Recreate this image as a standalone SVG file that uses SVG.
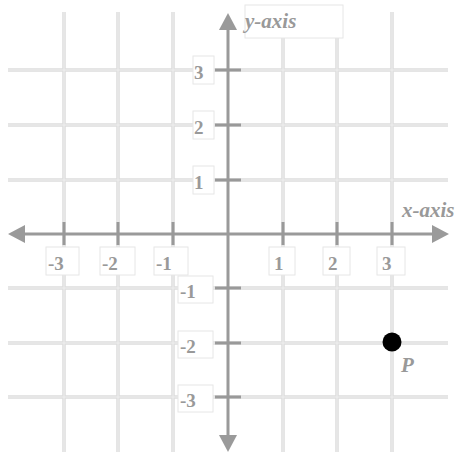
<svg xmlns="http://www.w3.org/2000/svg" width="457" height="454" viewBox="0 0 457 454">
<style>
.grid{stroke:#dddddd;stroke-width:3.5;fill:none}
.gridc{stroke:#efefef;stroke-width:1;fill:none}
.axis{stroke:#9a9a9a;stroke-width:3;fill:none}
.tick{stroke:#999999;stroke-width:3}
.box{fill:#ffffff;stroke:#e6e6e6;stroke-width:1}
.num{font-family:"Liberation Serif",serif;font-weight:bold;font-size:19px;fill:#999999}
.ax{font-family:"Liberation Serif",serif;font-weight:bold;font-style:italic;font-size:21px;fill:#999999}
.arrow{fill:#9a9a9a}
</style>
<g id="grid">
<path class="grid" d="M64 12V452M118 12V452M173 12V452M283 38V452M337 38V452M392 12V452M8 70H448M8 125H448M8 180H448M8 288H448M8 343H448M8 397H448"/>
<path class="gridc" d="M64 12V452M118 12V452M173 12V452M283 38V452M337 38V452M392 12V452M8 70H448M8 125H448M8 180H448M8 288H448M8 343H448M8 397H448"/>
</g>
<g id="connectors">
<path class="axis" d="M22 234H436"/>
<path class="axis" d="M228 28V438"/>
<polygon class="arrow" points="8,234 25,225 25,243"/>
<polygon class="arrow" points="449,234 432,225 432,243"/>
<polygon class="arrow" points="228,13 219,30 237,30"/>
<polygon class="arrow" points="228,452 219,435 237,435"/>
<path class="tick" d="M64 222V245M118 222V245M173 222V245M283 222V245M337 222V245M392 222V245M215 70H241M215 125H241M215 180H241M215 288H241M215 343H241M215 397H241"/>
</g>
<g id="y-axis-label"><rect class="box" x="245" y="5" width="98" height="33"/><text class="ax" x="245" y="28">y-axis</text></g>
<g id="x-axis-label"><text class="ax" x="402" y="217">x-axis</text></g>
<g id="xl-3"><rect class="box" x="46" y="247" width="33" height="28"/><text class="num" x="48" y="270">-3</text></g>
<g id="xl-2"><rect class="box" x="100" y="247" width="35" height="28"/><text class="num" x="102" y="270">-2</text></g>
<g id="xl-1"><rect class="box" x="154" y="247" width="34" height="28"/><text class="num" x="156" y="270">-1</text></g>
<g id="xl1"><rect class="box" x="269" y="247" width="26" height="28"/><text class="num" x="274" y="270">1</text></g>
<g id="xl2"><rect class="box" x="323" y="247" width="27" height="28"/><text class="num" x="328" y="270">2</text></g>
<g id="xl3"><rect class="box" x="377" y="247" width="28" height="28"/><text class="num" x="382" y="270">3</text></g>
<g id="yl3"><rect class="box" x="193" y="56" width="21" height="28"/><text class="num" x="194" y="79">3</text></g>
<g id="yl2"><rect class="box" x="193" y="111" width="21" height="28"/><text class="num" x="194" y="134">2</text></g>
<g id="yl1"><rect class="box" x="193" y="166" width="21" height="28"/><text class="num" x="194" y="189">1</text></g>
<g id="yl-1"><rect class="box" x="178" y="276" width="35" height="27"/><text class="num" x="180" y="298">-1</text></g>
<g id="yl-2"><rect class="box" x="178" y="331" width="35" height="27"/><text class="num" x="180" y="353">-2</text></g>
<g id="yl-3"><rect class="box" x="178" y="385" width="35" height="27"/><text class="num" x="180" y="407">-3</text></g>
<g id="point-P"><circle cx="392" cy="342" r="9.5" fill="#000000"/><text class="ax" x="401" y="372">P</text></g>
</svg>
